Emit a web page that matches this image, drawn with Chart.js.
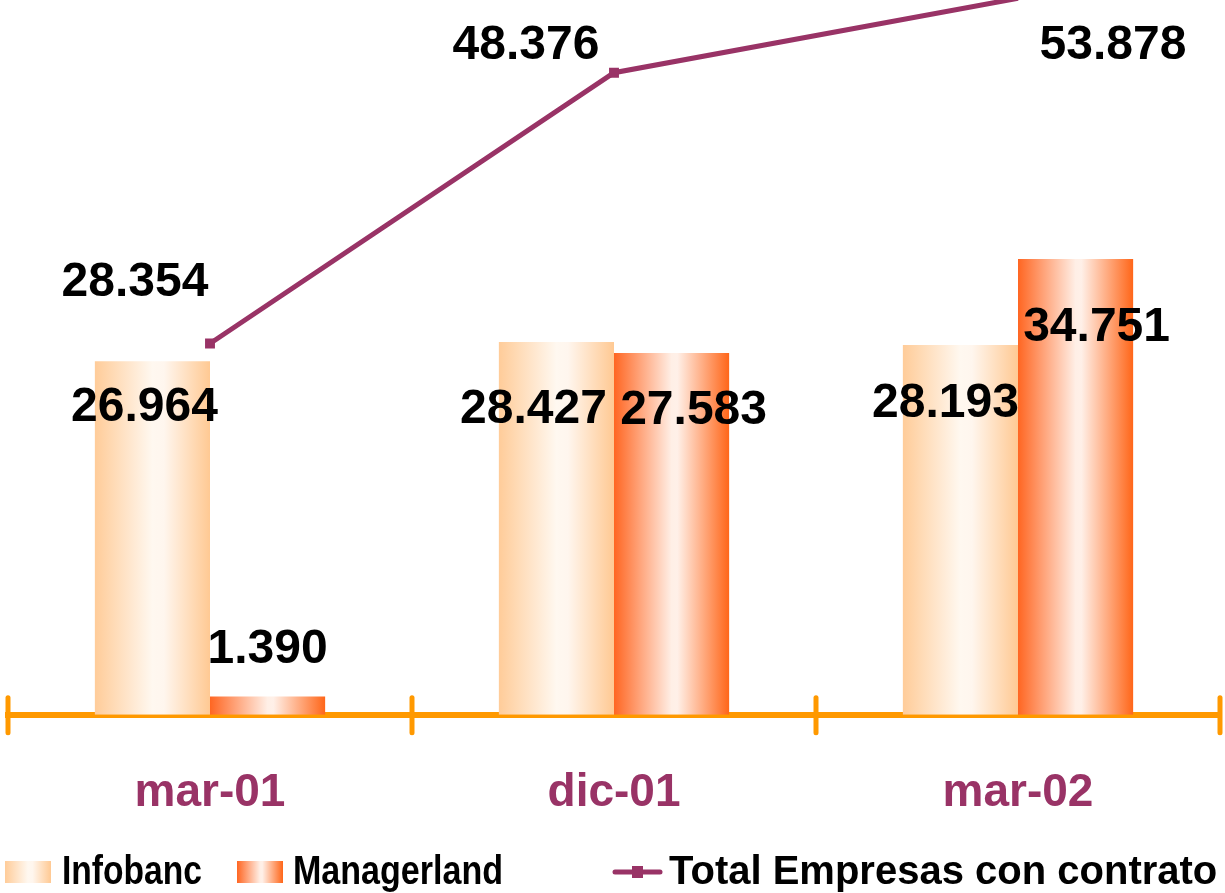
<!DOCTYPE html>
<html>
<head>
<meta charset="utf-8">
<script src="https://cdn.jsdelivr.net/npm/chart.js@4.4.1/dist/chart.umd.min.js"></script>
<style>
  html, body { margin: 0; padding: 0; background: #ffffff; }
</style>
</head>
<body>
<canvas id="chart" width="1225" height="893"></canvas>
<script>
const labels = ['mar-01', 'dic-01', 'mar-02'];
const infobanc = [26964, 28427, 28193];
const managerland = [1390, 27583, 34751];
const totalEmpresas = [28354, 48376, 53878];

const seriesNames = ['Infobanc', 'Managerland', 'Total Empresas con contrato'];

// label offsets from the bar top / point, like the hand-moved labels in the original
const infobancLabelPos = [[-8, 47], [-23, 68], [-15, 59]];
const managerlandLabelPos = [[0, -47], [22, 58], [21, 69]];
const totalLabelPos = [[-75, -61], [-88, -27], [95, 47]];

const FONT = "'Liberation Sans', Arial, sans-serif";
const PURPLE = '#993366';
const ORANGE_AXIS = '#FF9900';
const Y1_MIN = 900;
const Y1_MAX = 53750;

const infobancStops = [[0, '#FFCC99'], [0.5, '#FFF8F0'], [0.6, '#FFF6EE'], [1, '#FFC993']];
const managerlandStops = [[0, '#FF6622'], [0.5, '#FFEFE6'], [0.55, '#FFF0E8'], [1, '#FF6619']];

function fmt(v)
{
    let s = String(Math.round(v));
    return s.replace(/\B(?=(\d{3})+(?!\d))/g, '.');
}

function makeGradient(ctx, x0, x1, stops)
{
    const g = ctx.createLinearGradient(x0, 0, x1, 0);
    stops.forEach(s => g.addColorStop(s[0], s[1]));
    return g;
}

function barFill(stops, shift)
{
    return function (context) {
        const chart = context.chart;
        const x = chart.scales.x;
        if (!x || !chart.chartArea || context.dataIndex === undefined) return stops[0][1];
        const w = (x.width / labels.length) * 0.57 / 2;
        const cx = x.getPixelForValue(context.dataIndex) + shift * w;
        return makeGradient(chart.ctx, cx - w / 2, cx + w / 2, stops);
    };
}

const axisTicks = {
    id: 'axisTicks',
    afterDraw(chart) {
        const { ctx, chartArea } = chart;
        const x = chart.scales.x;
        const step = x.width / labels.length;
        ctx.save();
        ctx.strokeStyle = ORANGE_AXIS;
        ctx.lineWidth = 5;
        ctx.lineCap = 'round';
        for (let i = 0; i <= labels.length; i++) {
            const px = x.left + i * step;
            ctx.beginPath();
            ctx.moveTo(px, chartArea.bottom - 17);
            ctx.lineTo(px, chartArea.bottom + 18);
            ctx.stroke();
        }
        ctx.restore();
    }
};

const valueLabels = {
    id: 'valueLabels',
    afterDraw(chart) {
        const ctx = chart.ctx;
        const offsets = [infobancLabelPos, managerlandLabelPos, totalLabelPos];
        ctx.save();
        ctx.font = 'bold 48px ' + FONT;
        ctx.fillStyle = '#000000';
        ctx.textAlign = 'center';
        ctx.textBaseline = 'middle';
        chart.data.datasets.forEach((ds, di) => {
            const meta = chart.getDatasetMeta(di);
            meta.data.forEach((el, i) => {
                const off = offsets[di][i];
                ctx.fillText(fmt(ds.data[i]), el.x + off[0], el.y + off[1]);
            });
        });
        ctx.restore();
    }
};

const bottomLegend = {
    id: 'bottomLegend',
    afterDraw(chart) {
        const ctx = chart.ctx;
        const y = 872;
        const starts = [5, 237, 613];
        const textWidths = [140, 210, 553];
        ctx.save();
        ctx.font = 'bold 40px ' + FONT;
        ctx.textBaseline = 'middle';
        ctx.textAlign = 'left';

        ctx.fillStyle = makeGradient(ctx, starts[0], starts[0] + 46, infobancStops);
        ctx.fillRect(starts[0], y - 11, 46, 22);
        ctx.fillStyle = makeGradient(ctx, starts[1], starts[1] + 46, managerlandStops);
        ctx.fillRect(starts[1], y - 11, 46, 22);

        ctx.strokeStyle = PURPLE;
        ctx.lineWidth = 5;
        ctx.lineCap = 'round';
        ctx.beginPath();
        ctx.moveTo(starts[2] + 2, y);
        ctx.lineTo(starts[2] + 47, y);
        ctx.stroke();
        ctx.fillStyle = PURPLE;
        ctx.fillRect(starts[2] + 19, y - 6, 11, 12);

        ctx.fillStyle = '#000000';
        ctx.fillText(seriesNames[0], starts[0] + 57, y + 1, textWidths[0]);
        ctx.fillText(seriesNames[1], starts[1] + 56, y + 1, textWidths[1]);
        ctx.fillText(seriesNames[2], starts[2] + 56, y + 1, textWidths[2]);
        ctx.restore();
    }
};

new Chart(document.getElementById('chart'), {
    type: 'bar',
    data: {
        labels: labels,
        datasets: [
            {
                label: seriesNames[0],
                data: infobanc,
                backgroundColor: barFill(infobancStops, -0.5),
                borderWidth: 0,
                categoryPercentage: 0.57,
                barPercentage: 1.0,
                yAxisID: 'y',
                order: 1
            },
            {
                label: seriesNames[1],
                data: managerland,
                backgroundColor: barFill(managerlandStops, 0.5),
                borderWidth: 0,
                categoryPercentage: 0.57,
                barPercentage: 1.0,
                yAxisID: 'y',
                order: 1
            },
            {
                type: 'line',
                label: seriesNames[2],
                data: totalEmpresas,
                borderColor: PURPLE,
                borderWidth: 5,
                pointStyle: 'rect',
                // points above the axis maximum are off the plot, so no marker
                pointRadius: ctx => (ctx.raw > Y1_MAX ? 0 : 7),
                pointBackgroundColor: PURPLE,
                pointBorderColor: PURPLE,
                pointBorderWidth: 0,
                tension: 0,
                yAxisID: 'y1',
                order: 0
            }
        ]
    },
    options: {
        responsive: false,
        animation: false,
        layout: {
            autoPadding: false,
            padding: { left: 8, right: 5, top: 0, bottom: 40 }
        },
        plugins: {
            legend: { display: false },
            tooltip: { enabled: false },
            title: { display: false }
        },
        scales: {
            x: {
                offset: true,
                grid: {
                    offset: true,
                    drawOnChartArea: false,
                    drawTicks: true,
                    tickLength: 19,
                    color: 'rgba(0,0,0,0)'
                },
                border: { display: true, color: ORANGE_AXIS, width: 6 },
                ticks: {
                    color: PURPLE,
                    padding: 32,
                    font: { family: FONT, size: 46, weight: 'bold' }
                }
            },
            y: {
                display: false,
                min: 0,
                max: 54500
            },
            y1: {
                display: false,
                min: Y1_MIN,
                max: Y1_MAX
            }
        }
    },
    plugins: [axisTicks, valueLabels, bottomLegend]
});
</script>
</body>
</html>
